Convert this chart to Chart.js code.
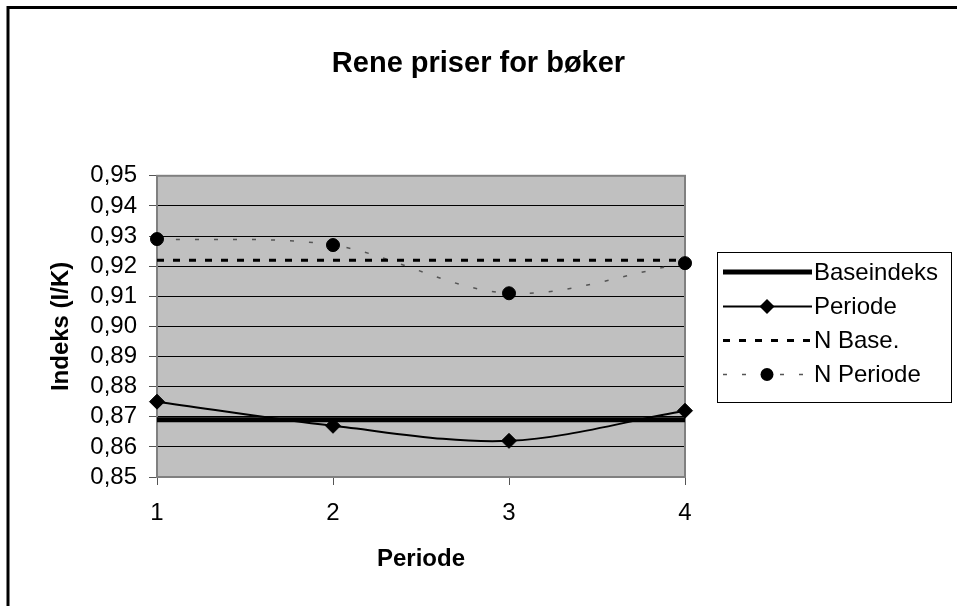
<!DOCTYPE html>
<html>
<head>
<meta charset="utf-8">
<script src="https://cdn.jsdelivr.net/npm/chart.js@4.4.1/dist/chart.umd.min.js"></script>
<style>
html,body{margin:0;padding:0;background:#fff}
#wrap{width:957px;height:606px;position:relative}
</style>
</head>
<body>
<div id="wrap"><canvas id="grafica" width="957" height="606"></canvas></div>
<script>

/* DATOS */

const perioder=["1","2","3","4"]
const baseindeks=[0.869,0.869,0.869,0.869]
const periode=[0.875,0.867,0.862,0.872]
const nBase=[0.922,0.922,0.922,0.922]
const nPeriode=[0.929,0.927,0.911,0.921]

const yMin=0.85
const yMax=0.95
const yStep=0.01

const FONT="'Liberation Sans', Arial, sans-serif"

/* FONDO, MARCO Y LEYENDA */

const marco={
id:"marco",
beforeDraw(chart){
const a=chart.chartArea
const ctx=chart.ctx
ctx.save()
ctx.fillStyle="#fff"
ctx.fillRect(0,0,chart.width,chart.height)
ctx.fillStyle="#c0c0c0"
ctx.fillRect(a.left,a.top,a.right-a.left,a.bottom-a.top)
ctx.restore()
},
beforeDatasetsDraw(chart){
const a=chart.chartArea
const ctx=chart.ctx
ctx.save()
ctx.strokeStyle="#808080"
ctx.lineWidth=2
ctx.strokeRect(a.left,a.top,a.right-a.left,a.bottom-a.top)
ctx.restore()
},
afterDraw(chart){
const ctx=chart.ctx
ctx.save()
// marco exterior
ctx.strokeStyle="#000"
ctx.lineWidth=3
ctx.beginPath()
ctx.moveTo(957,7.5)
ctx.lineTo(8,7.5)
ctx.lineTo(8,606)
ctx.stroke()

// leyenda
const lx=717,ly=252,lw=234,lh=150
ctx.lineWidth=1
ctx.strokeStyle="#000"
ctx.strokeRect(lx+0.5,ly+0.5,lw,lh)

const filas=[272,306.5,340.5,374.5]
chart.data.datasets.forEach((ds,i)=>{
const y=filas[i]
ctx.save()
ctx.strokeStyle=ds.borderColor
ctx.lineWidth=ds.borderWidth
ctx.setLineDash(ds.borderDash||[])
ctx.beginPath()
ctx.moveTo(723,y)
ctx.lineTo(812,y)
ctx.stroke()
ctx.setLineDash([])
const r=ds.pointRadius
if(r>0){
ctx.fillStyle=ds.pointBackgroundColor
ctx.beginPath()
if(ds.pointStyle==="rectRot"){
ctx.moveTo(767-r,y);ctx.lineTo(767,y-r);ctx.lineTo(767+r,y);ctx.lineTo(767,y+r);ctx.closePath()
}else{
ctx.arc(767,y,r,0,Math.PI*2)
}
ctx.fill()
}
ctx.restore()
ctx.fillStyle="#000"
ctx.font="24px "+FONT
ctx.textBaseline="middle"
ctx.textAlign="left"
ctx.fillText(ds.label,814,y+1)
})
ctx.restore()
}
}

/* GRAFICA */

new Chart(document.getElementById("grafica"),{

type:"line",

data:{
labels:perioder,
datasets:[
{
label:"Baseindeks",
data:baseindeks,
borderColor:"#000",
borderWidth:5,
pointRadius:0,
tension:0,
clip:false
},
{
label:"Periode",
data:periode,
borderColor:"#000",
borderWidth:2,
pointStyle:"rectRot",
pointRadius:7.5,
pointBackgroundColor:"#000",
pointBorderColor:"#000",
pointBorderWidth:1,
tension:0.33,
clip:false
},
{
label:"N Base.",
data:nBase,
borderColor:"#000",
borderWidth:3,
borderDash:[7,9],
pointRadius:0,
tension:0,
clip:false
},
{
label:"N Periode",
data:nPeriode,
borderColor:"#555",
borderWidth:1.5,
borderDash:[4,15],
pointStyle:"circle",
pointRadius:6.5,
pointBackgroundColor:"#000",
pointBorderColor:"#000",
pointBorderWidth:1,
tension:0.33,
clip:false
}
]
},

options:{
responsive:false,
animation:false,
devicePixelRatio:1,
layout:{padding:{left:0,right:0,top:0,bottom:0}},
plugins:{
legend:{display:false},
tooltip:{enabled:false},
title:{
display:true,
text:"Rene priser for bøker",
color:"#000",
font:{family:FONT,size:29,weight:"bold",lineHeight:1.2},
padding:{top:47,bottom:94}
}
},
scales:{
x:{
type:"category",
offset:false,
afterFit(s){s.height=129},
grid:{drawOnChartArea:false,drawTicks:true,tickLength:8,tickColor:"#555",tickWidth:1},
border:{display:false},
ticks:{color:"#000",font:{family:FONT,size:24},padding:14,maxRotation:0},
title:{display:true,text:"Periode",color:"#000",font:{family:FONT,size:24,weight:"bold",lineHeight:1.2},padding:{top:0,bottom:32}}
},
y:{
min:yMin,
max:yMax,
afterFit(s){s.width=157},
grid:{
color:c=>(Math.abs(c.tick.value-yMin)<1e-6||Math.abs(c.tick.value-yMax)<1e-6)?"rgba(0,0,0,0)":"#000",
lineWidth:1,
drawTicks:true,
tickLength:8,
tickColor:"#555",
tickWidth:1
},
border:{display:false},
ticks:{
stepSize:yStep,
autoSkip:false,
color:"#000",
font:{family:FONT,size:24},
padding:12,
callback:v=>Number(v).toFixed(2).replace(".",",")
},
title:{display:true,text:"Indeks (I/K)",color:"#000",font:{family:FONT,size:24,weight:"bold",lineHeight:1.2},padding:{top:47,bottom:0}}
},
lado:{
position:"right",
display:true,
afterFit(s){s.width=272},
grid:{display:false},
border:{display:false},
ticks:{display:false}
}
}
},

plugins:[marco]

})

</script>
</body>
</html>
